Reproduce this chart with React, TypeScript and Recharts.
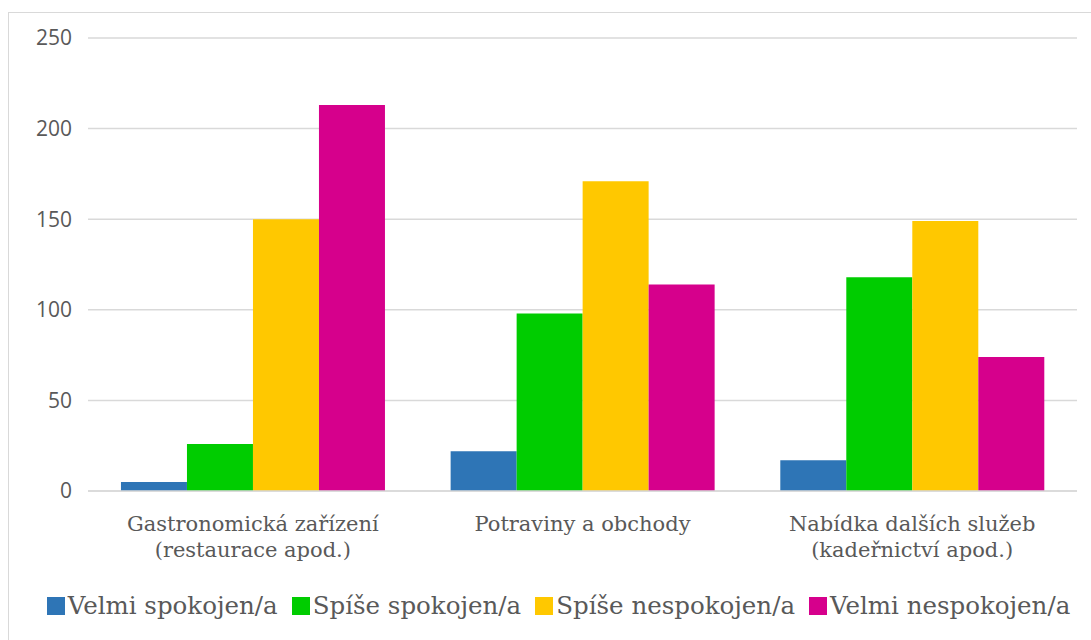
import { BarChart, Bar, XAxis, YAxis, CartesianGrid } from "recharts";

const categories = [
  "Gastronomická zařízení\n(restaurace apod.)",
  "Potraviny a obchody",
  "Nabídka dalších služeb\n(kadeřnictví apod.)",
];

const velmiSpokojen = [5, 22, 17];
const spiseSpokojen = [26, 98, 118];
const spiseNespokojen = [150, 171, 149];
const velmiNespokojen = [213, 114, 74];

const yTicks = [0, 50, 100, 150, 200, 250];

const series = [
  { key: "velmiSpokojen", name: "Velmi spokojen/a", color: "#2E75B6" },
  { key: "spiseSpokojen", name: "Spíše spokojen/a", color: "#00CC00" },
  { key: "spiseNespokojen", name: "Spíše nespokojen/a", color: "#FFC800" },
  { key: "velmiNespokojen", name: "Velmi nespokojen/a", color: "#D6008C" },
];

const data = categories.map((c, i) => ({
  category: c,
  velmiSpokojen: velmiSpokojen[i],
  spiseSpokojen: spiseSpokojen[i],
  spiseNespokojen: spiseNespokojen[i],
  velmiNespokojen: velmiNespokojen[i],
}));

const TEXT = "#595959";
const SERIF = "'DejaVu Serif', serif";

function CategoryTick({ x, y, payload }: any) {
  const lines = String(payload.value).split("\n");
  return (
    <text x={x} y={y} textAnchor="middle" fill={TEXT} fontFamily={SERIF} fontSize={21}>
      {lines.map((l, i) => (
        <tspan key={i} x={x} dy={i === 0 ? 38 : 26}>
          {l}
        </tspan>
      ))}
    </text>
  );
}

export default function App() {
  return (
    <div style={{ position: "absolute", left: 0, top: 0, width: 1091, height: 640, background: "#fff", overflow: "hidden" }}>
      <div
        style={{
          position: "absolute",
          left: 8,
          top: 12,
          width: 1100,
          height: 640,
          border: "1px solid #d9d9d9",
        }}
      />
      <BarChart
        width={1091}
        height={640}
        data={data}
        margin={{ top: 38, right: 14, bottom: 89, left: 0 }}
        barCategoryGap="10%"
        barGap={0}
      >
        <CartesianGrid vertical={false} stroke="#d9d9d9" strokeWidth={1.5} />
        <XAxis
          dataKey="category"
          height={60}
          axisLine={{ stroke: "#d9d9d9", strokeWidth: 1.5 }}
          tickLine={false}
          tickSize={0}
          tick={<CategoryTick />}
          interval={0}
        />
        <YAxis
          width={88}
          domain={[0, 250]}
          ticks={yTicks}
          axisLine={false}
          tickLine={false}
          tickSize={0}
          tickMargin={16}
          tick={{ fill: TEXT, fontSize: 21, fontFamily: "'Open Sans', sans-serif" }}
        />
        {series.map((s) => (
          <Bar key={s.key} dataKey={s.key} name={s.name} fill={s.color} isAnimationActive={false} />
        ))}
      </BarChart>
      <div
        style={{
          position: "absolute",
          left: 26,
          top: 591,
          width: 1065,
          display: "flex",
          justifyContent: "center",
          alignItems: "center",
          gap: 14,
          fontFamily: SERIF,
          fontSize: 24.5,
          color: TEXT,
        }}
      >
        {series.map((s) => (
          <div key={s.key} style={{ display: "flex", alignItems: "center", gap: 3 }}>
            <span style={{ display: "inline-block", width: 18, height: 18, background: s.color }} />
            <span>{s.name}</span>
          </div>
        ))}
      </div>
    </div>
  );
}
